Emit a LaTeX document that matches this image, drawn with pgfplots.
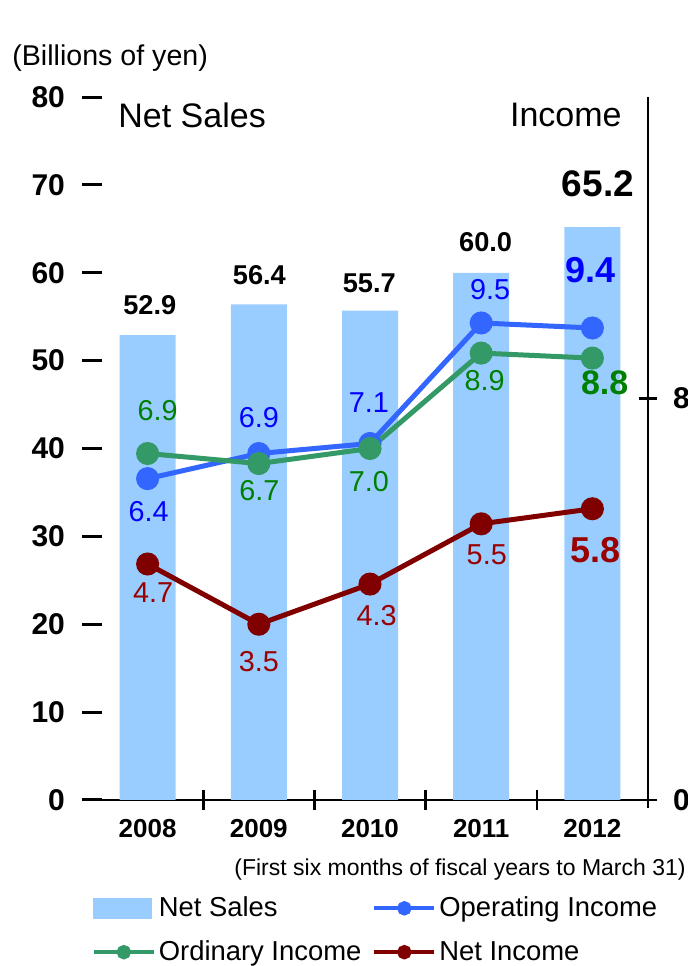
\documentclass[border=0pt]{standalone}
\usepackage{fontspec}
\setmainfont{Liberation Sans}
\usepackage{pgfplots}
\pgfplotsset{compat=1.18}
\definecolor{barblue}{HTML}{99CCFF}
\definecolor{opline}{HTML}{3366FF}
\definecolor{oplab}{HTML}{0000FF}
\definecolor{ordline}{HTML}{339966}
\definecolor{ordlab}{HTML}{008000}
\definecolor{netline}{HTML}{800000}
\definecolor{netlab}{HTML}{990000}
\newcommand{\fs}[1]{\fontsize{#1}{#1}\selectfont}
\begin{document}
\begin{tikzpicture}[x=1pt,y=1pt]
\useasboundingbox (0,0) rectangle (344,483);
\pgfplotsset{
  base/.style={scale only axis, width=278pt, height=351.5pt, at={(46pt,83pt)},
    anchor=south west, xmin=-0.5, xmax=4.5, ymin=0, clip=false,
    /pgf/number format/assume math mode=true, tick align=center}
}
\begin{axis}[base, ymax=80,
  axis x line*=bottom, axis y line*=left,
  y axis line style={draw=none},
  x axis line style={-, line width=1.4pt, shorten <=-5pt, shorten >=-4.5pt},
  ytick={0,10,...,80},
  ytick style={line width=1.5pt, black},
  major tick length=10pt,
  yticklabel style={font=\fs{15}\bfseries, xshift=-5pt},
  xtick={0.5,1.5,2.5,3.5}, xticklabels={},
  xtick style={line width=1.3pt, black},
  extra x ticks={0,1,2,3,4},
  extra x tick labels={2008,2009,2010,2011,2012},
  extra x tick style={major tick length=0pt, xticklabel style={font=\fs{13}\bfseries, yshift=-6pt}},
]
\addplot[ybar, bar width=28pt, fill=barblue, draw=none] coordinates {(0,52.9) (1,56.4) (2,55.7) (3,60.0) (4,65.2)};
\end{axis}
\begin{axis}[base, ymax=14,
  axis x line=none, axis y line*=right,
  y axis line style={-, line width=1.4pt, shorten <=-4pt},
  ytick={0,8}, yticklabels={0,8},
  ytick style={line width=1.4pt, black},
  major tick length=9pt,
  yticklabel style={font=\fs{15}\bfseries, xshift=4.5pt},
  legend columns=2,
  legend style={draw=none, fill=none, at={(-0.001,-0.133)}, anchor=north west,
    font=\fs{13.7}, inner sep=0pt, row sep=7.5pt,
    /tikz/every even column/.append style={column sep=4pt},
    nodes={inner sep=1.5pt}},
  legend cell align=left,
  legend image code/.code={\draw[#1, line width=2pt, mark size=2.6pt, mark repeat=2, mark phase=2] plot coordinates {(0pt,0pt) (15pt,0pt) (30pt,0pt)};},
]
\addlegendimage{legend image code/.code={\fill[barblue] (0pt,-5pt) rectangle (29pt,5pt);}}
\addlegendentry{Net Sales}
\addplot[opline, line width=2.5pt, mark=*, mark size=4.5pt, mark options={fill=opline, draw=opline}] coordinates {(0,6.4) (1,6.9) (2,7.1) (3,9.5) (4,9.4)};
\addlegendentry{Operating Income}
\addplot[ordline, line width=2.5pt, mark=*, mark size=4.5pt, mark options={fill=ordline, draw=ordline}] coordinates {(0,6.9) (1,6.7) (2,7.0) (3,8.9) (4,8.8)};
\addlegendentry{Ordinary Income}
\addplot[netline, line width=2.5pt, mark=*, mark size=4.5pt, mark options={fill=netline, draw=netline}] coordinates {(0,4.7) (1,3.5) (2,4.3) (3,5.5) (4,5.8)};
\addlegendentry{Net Income}
% net sales labels
\node[font=\fs{13.6}\bfseries] at (axis cs:0.02,9.85) {52.9};
\node[font=\fs{13.6}\bfseries] at (axis cs:1.005,10.45) {56.4};
\node[font=\fs{13.6}\bfseries] at (axis cs:1.994,10.29) {55.7};
\node[font=\fs{13.6}\bfseries] at (axis cs:3.04,11.10) {60.0};
\node[font=\fs{18.5}\bfseries] at (axis cs:4.05,12.28) {65.2};
% operating
\node[font=\fs{14.4}, text=oplab] at (axis cs:0.01,5.75) {6.4};
\node[font=\fs{14.4}, text=oplab] at (axis cs:1.0,7.61) {6.9};
\node[font=\fs{14.4}, text=oplab] at (axis cs:1.99,7.92) {7.1};
\node[font=\fs{14.4}, text=oplab] at (axis cs:3.08,10.17) {9.5};
\node[font=\fs{18}\bfseries, text=oplab] at (axis cs:3.98,10.55) {9.4};
% ordinary
\node[font=\fs{14.4}, text=ordlab] at (axis cs:0.09,7.76) {6.9};
\node[font=\fs{14.4}, text=ordlab] at (axis cs:1.005,6.16) {6.7};
\node[font=\fs{14.4}, text=ordlab] at (axis cs:1.99,6.35) {7.0};
\node[font=\fs{14.4}, text=ordlab] at (axis cs:3.03,8.36) {8.9};
\node[font=\fs{17}\bfseries, text=ordlab] at (axis cs:4.11,8.30) {8.8};
% net
\node[font=\fs{14.4}, text=netlab] at (axis cs:0.05,4.14) {4.7};
\node[font=\fs{14.4}, text=netlab] at (axis cs:1.0,2.76) {3.5};
\node[font=\fs{14.4}, text=netlab] at (axis cs:2.06,3.68) {4.3};
\node[font=\fs{14.4}, text=netlab] at (axis cs:3.05,4.88) {5.5};
\node[font=\fs{18}\bfseries, text=netlab] at (axis cs:4.03,4.98) {5.8};
\end{axis}
\node[anchor=west, inner sep=0pt, font=\fs{14.3}] at (6,454) {(Billions of yen)};
\node[anchor=west, inner sep=0pt, font=\fs{17}] at (59,425.5) {Net Sales};
\node[anchor=east, inner sep=0pt, font=\fs{17}] at (311,425.5) {Income};
\node[anchor=east, inner sep=0pt, font=\fs{11.5}] at (343,48) {(First six months of fiscal years to March 31)};
\end{tikzpicture}
\end{document}
